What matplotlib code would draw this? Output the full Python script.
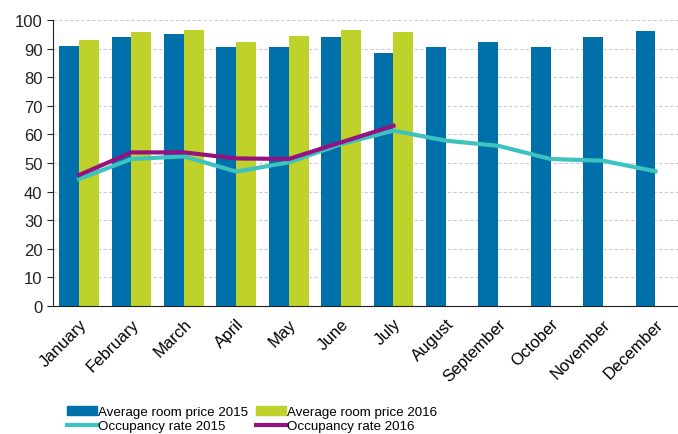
import numpy as np
import matplotlib.pyplot as plt
from matplotlib.lines import Line2D
from matplotlib.patches import Patch

plt.rcParams['font.family'] = ['Liberation Sans', 'DejaVu Sans']

months = ["January", "February", "March", "April", "May", "June", "July",
          "August", "September", "October", "November", "December"]
price_2015 = [91.0, 93.9, 95.1, 90.4, 90.4, 93.9, 88.3, 90.4, 92.2, 90.4, 93.9, 96.0]
price_2016 = [92.8, 95.7, 96.6, 92.2, 94.5, 96.6, 95.6]
occ_2015 = [44.4, 51.4, 52.3, 47.0, 50.2, 56.6, 61.3, 57.8, 56.0, 51.4, 50.8, 47.1]
occ_2016 = [45.8, 53.7, 53.7, 51.6, 51.4, 57.2, 63.0]

c_blue = "#0070ab"
c_green = "#bfd12b"
c_teal = "#3cc3bf"
c_purple = "#961281"

fig = plt.figure(figsize=(6.78, 4.35), dpi=100)
ax = fig.add_axes([0.078, 0.294, 0.922, 0.658])

x = np.arange(len(months))
x16 = np.arange(len(price_2016))
w = 0.38
ax.bar(x - w / 2, price_2015, width=w, color=c_blue, zorder=2)
ax.bar(x16 + w / 2, price_2016, width=w, color=c_green, zorder=2)
ax.plot(x, occ_2015, color=c_teal, lw=3, zorder=3)
ax.plot(x16, occ_2016, color=c_purple, lw=3, zorder=4)

ax.set_ylim(0, 100)
ax.set_xlim(-0.5, 11.43)
ax.set_yticks(range(0, 101, 10))
ax.tick_params(axis='y', labelsize=12, length=4, colors='#222222')
ax.set_xticks(x)
ax.set_xticklabels(months, rotation=45, ha='right', rotation_mode='anchor', fontsize=12)
ax.tick_params(axis='x', length=0, pad=7)
ax.yaxis.grid(True, color='#cccccc', linestyle=(0, (3, 2)), lw=0.8, zorder=0)
for s in ['top', 'right']:
    ax.spines[s].set_visible(False)
ax.spines['left'].set_color('#222222')
ax.spines['bottom'].set_color('#222222')

# column-first fill: order so rows read price, then occupancy
handles = [Patch(color=c_blue), Line2D([], [], color=c_teal, lw=3),
           Patch(color=c_green), Line2D([], [], color=c_purple, lw=3)]
labels = ["Average room price 2015", "Occupancy rate 2015",
          "Average room price 2016", "Occupancy rate 2016"]
fig.legend(handles, labels, ncol=2, loc='lower center', bbox_to_anchor=(0.372, -0.024),
           frameon=False, fontsize=9.6, handlelength=2.2, handleheight=0.65,
           handletextpad=0.1, columnspacing=0.6, labelspacing=0.15)

fig.savefig("out.png", dpi=100)
